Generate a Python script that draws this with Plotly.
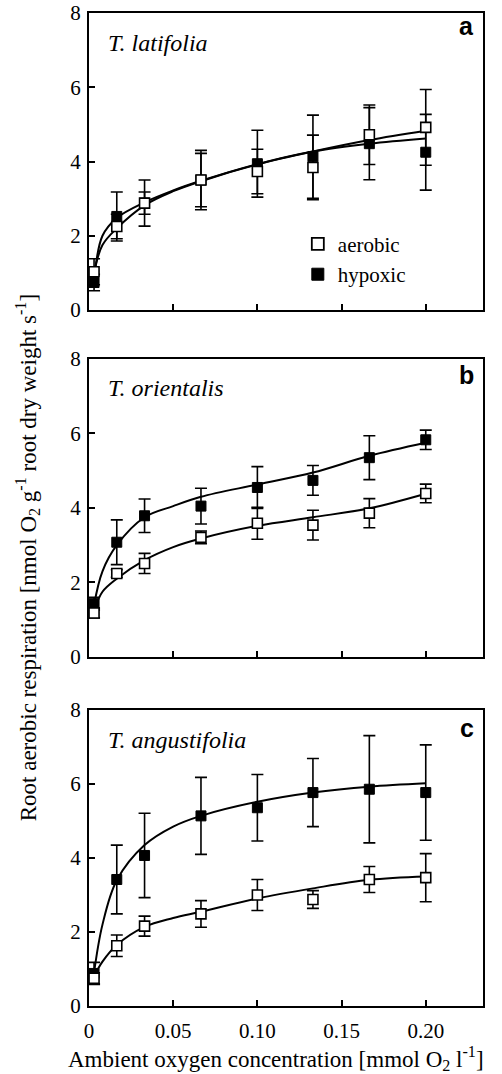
import plotly.graph_objects as go

# ---------------- data ----------------
x_pts = [0.003, 0.0165, 0.033, 0.0665, 0.1, 0.133, 0.1665, 0.2]

# Panel a: T. latifolia
a_aer = [1.03, 2.25, 2.88, 3.50, 3.73, 3.84, 4.72, 4.92]
a_aer_err = [0.35, 0.33, 0.30, 0.72, 0.60, 0.87, 0.80, 1.02]
a_hyp = [0.74, 2.52, 2.88, 3.50, 3.94, 4.13, 4.48, 4.25]
a_hyp_err = [0.22, 0.66, 0.62, 0.80, 0.90, 1.12, 0.97, 1.02]

# Panel b: T. orientalis
b_aer = [1.18, 2.24, 2.51, 3.21, 3.59, 3.54, 3.86, 4.39]
b_aer_err = [0.13, 0.10, 0.27, 0.17, 0.43, 0.40, 0.39, 0.25]
b_hyp = [1.43, 3.08, 3.79, 4.05, 4.55, 4.74, 5.35, 5.83]
b_hyp_err = [0.17, 0.60, 0.45, 0.48, 0.56, 0.40, 0.59, 0.26]

# Panel c: T. angustifolia
c_aer = [0.75, 1.63, 2.16, 2.49, 3.00, 2.88, 3.42, 3.47]
c_aer_err = [0.15, 0.29, 0.27, 0.36, 0.42, 0.24, 0.35, 0.65]
c_hyp = [0.88, 3.42, 4.07, 5.14, 5.36, 5.77, 5.86, 5.77]
c_hyp_err = [0.30, 0.93, 1.14, 1.04, 0.90, 0.92, 1.45, 1.29]

# fitted curves
curve_x = [0.003, 0.008, 0.0165, 0.033, 0.05, 0.0665, 0.1, 0.133, 0.1665, 0.2]
a_aer_fit = [1.0, 1.75, 2.2, 2.82, 3.2, 3.47, 3.92, 4.27, 4.58, 4.83]
a_hyp_fit = [0.8, 2.0, 2.48, 2.9, 3.22, 3.48, 3.93, 4.27, 4.48, 4.62]
b_aer_fit = [1.25, 1.75, 2.1, 2.6, 2.95, 3.18, 3.52, 3.75, 3.99, 4.38]
b_hyp_fit = [1.4, 2.3, 3.0, 3.75, 4.05, 4.3, 4.63, 4.95, 5.4, 5.75]
c_aer_fit = [0.8, 1.2, 1.65, 2.14, 2.38, 2.55, 2.91, 3.18, 3.41, 3.5]
c_hyp_fit = [0.9, 2.2, 3.4, 4.35, 4.85, 5.14, 5.52, 5.77, 5.93, 6.02]

species = ["T. latifolia", "T. orientalis", "T. angustifolia"]
panel_letters = ["a", "b", "c"]
x_ticks = [0, 0.05, 0.10, 0.15, 0.20]
x_ticklabels = ["0", "0.05", "0.10", "0.15", "0.20"]
y_ticks = [0, 2, 4, 6, 8]
legend_names = ["aerobic", "hypoxic"]

x_title = "Ambient oxygen concentration [mmol O<sub>2</sub> l<sup>-1</sup>]"
y_title = "Root aerobic respiration [nmol O<sub>2</sub> g<sup>-1</sup> root dry weight s<sup>-1</sup>]"

# ---------------- figure ----------------
SERIF = "Liberation Serif"
SANS = "Liberation Sans"
fig = go.Figure()

panels = [
    (a_aer, a_aer_err, a_hyp, a_hyp_err, a_aer_fit, a_hyp_fit),
    (b_aer, b_aer_err, b_hyp, b_hyp_err, b_aer_fit, b_hyp_fit),
    (c_aer, c_aer_err, c_hyp, c_hyp_err, c_aer_fit, c_hyp_fit),
]
domains = [[0.7009, 1.0], [0.3515, 0.6516], [0.0, 0.298]]
species_y = [0.9, 0.903, 0.9]
letter_y = [0.955, 0.945, 0.94]

for i, (aer, aer_e, hyp, hyp_e, aer_fit, hyp_fit) in enumerate(panels):
    xa = "x" if i == 0 else f"x{i+1}"
    ya = "y" if i == 0 else f"y{i+1}"
    for fit in (aer_fit, hyp_fit):
        fig.add_trace(go.Scatter(
            x=curve_x, y=fit, mode="lines", xaxis=xa, yaxis=ya,
            line=dict(color="black", width=2, shape="spline", smoothing=1.0),
            showlegend=False, hoverinfo="skip"))
    fig.add_trace(go.Scatter(
        x=x_pts, y=hyp, mode="markers", xaxis=xa, yaxis=ya,
        name=legend_names[1], showlegend=False,
        marker=dict(symbol="square", size=10, color="black",
                    line=dict(color="black", width=1)),
        error_y=dict(type="data", array=hyp_e, color="black",
                     thickness=1.6, width=6)))
    fig.add_trace(go.Scatter(
        x=x_pts, y=aer, mode="markers", xaxis=xa, yaxis=ya,
        name=legend_names[0], showlegend=False,
        marker=dict(symbol="square", size=10, color="white",
                    line=dict(color="black", width=1.6)),
        error_y=dict(type="data", array=aer_e, color="black",
                     thickness=1.6, width=6)))

# legend entries (panel a)
fig.add_trace(go.Scatter(
    x=[None], y=[None], mode="markers", name=legend_names[0],
    marker=dict(symbol="square", size=12, color="white",
                line=dict(color="black", width=1.8))))
fig.add_trace(go.Scatter(
    x=[None], y=[None], mode="markers", name=legend_names[1],
    marker=dict(symbol="square", size=12, color="black",
                line=dict(color="black", width=1))))

axis_common = dict(
    showline=True, linecolor="black", linewidth=2, mirror=True,
    ticks="inside", ticklen=6, tickwidth=1.5, tickcolor="black",
    showgrid=False, zeroline=False, automargin=False,
    tickfont=dict(family=SERIF, size=21, color="black"),
)

layout = dict(
    width=502, height=1074,
    margin=dict(l=89, r=19, t=13, b=68, autoexpand=False),
    plot_bgcolor="white", paper_bgcolor="white",
    showlegend=True,
    legend=dict(x=0.53, y=0.752, xanchor="left", yanchor="middle",
                bgcolor="rgba(0,0,0,0)",
                font=dict(family=SERIF, size=21, color="black"),
                itemwidth=30, tracegroupgap=0),
)

for i in range(3):
    xk = "xaxis" if i == 0 else f"xaxis{i+1}"
    yk = "yaxis" if i == 0 else f"yaxis{i+1}"
    xa = "x" if i == 0 else f"x{i+1}"
    ya = "y" if i == 0 else f"y{i+1}"
    layout[xk] = dict(axis_common, domain=[0, 1], anchor=ya, range=[0, 0.234],
                      tickvals=x_ticks, ticktext=x_ticklabels,
                      showticklabels=(i == 2), ticklabelstandoff=5)
    layout[yk] = dict(axis_common, domain=domains[i], anchor=xa, range=[0, 8],
                      tickvals=y_ticks, ticklabelstandoff=2)

fig.update_layout(**layout)

annotations = []
for i in range(3):
    xa = "x" if i == 0 else f"x{i+1}"
    ya = "y" if i == 0 else f"y{i+1}"
    annotations.append(dict(
        text=f"<i>{species[i]}</i>", xref=f"{xa} domain", yref=f"{ya} domain",
        x=0.044, y=species_y[i], xanchor="left", yanchor="middle", showarrow=False,
        font=dict(family=SERIF, size=24, color="black")))
    annotations.append(dict(
        text=f"<b>{panel_letters[i]}</b>", xref=f"{xa} domain", yref=f"{ya} domain",
        x=0.982, y=letter_y[i], xanchor="right", yanchor="middle", showarrow=False,
        font=dict(family=SANS, size=25, color="black")))

annotations.append(dict(
    text=x_title, xref="paper", yref="paper", x=0.475, y=-0.0524,
    xanchor="center", yanchor="middle", showarrow=False,
    font=dict(family=SERIF, size=23, color="black")))
annotations.append(dict(
    text=y_title, xref="paper", yref="paper", x=-0.157, y=0.451,
    xanchor="center", yanchor="middle", showarrow=False, textangle=-90,
    font=dict(family=SERIF, size=23, color="black")))

fig.update_layout(annotations=annotations)
# remove the default 8 px page margin so the figure fills the window exactly
fig.write_html("out.html",
               config={"displayModeBar": False},
               post_script="document.body.style.margin='0px';"
                           "document.body.style.overflow='hidden';")
